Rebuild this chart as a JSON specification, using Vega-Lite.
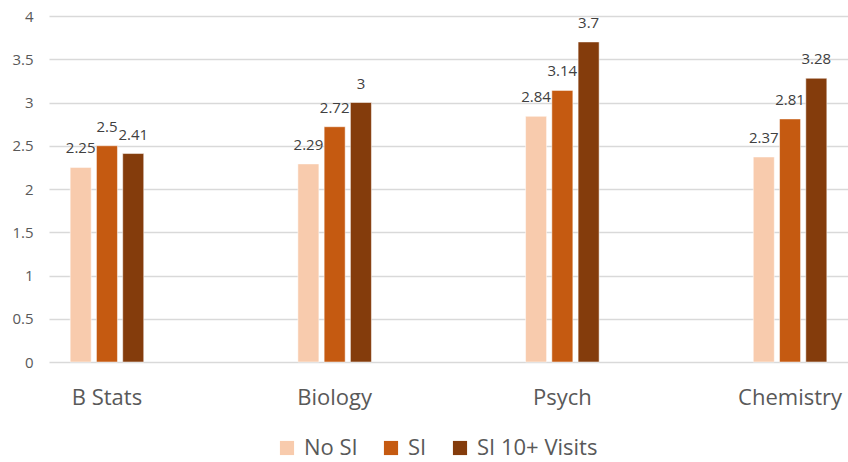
{
  "$schema": "https://vega.github.io/schema/vega-lite/v6.json",
  "autosize": "none",
  "width": 799,
  "height": 346,
  "padding": {"left": 49, "top": 16, "right": 0, "bottom": 100},
  "background": "white",
  "config": {"view": {"stroke": null}, "font": "Open Sans"},
  "data": {"values": [
    {"course": "B Stats", "group": "No SI", "gpa": 2.25},
    {"course": "B Stats", "group": "SI", "gpa": 2.5},
    {"course": "B Stats", "group": "SI 10+ Visits", "gpa": 2.41},
    {"course": "Biology", "group": "No SI", "gpa": 2.29},
    {"course": "Biology", "group": "SI", "gpa": 2.72},
    {"course": "Biology", "group": "SI 10+ Visits", "gpa": 3},
    {"course": "Psych", "group": "No SI", "gpa": 2.84},
    {"course": "Psych", "group": "SI", "gpa": 3.14},
    {"course": "Psych", "group": "SI 10+ Visits", "gpa": 3.7},
    {"course": "Chemistry", "group": "No SI", "gpa": 2.37},
    {"course": "Chemistry", "group": "SI", "gpa": 2.81},
    {"course": "Chemistry", "group": "SI 10+ Visits", "gpa": 3.28}
  ]},
  "encoding": {
    "x": {"field": "course", "type": "nominal", "sort": ["B Stats", "Biology", "Psych", "Chemistry"],
      "scale": {"paddingInner": 0.677, "paddingOuter": 0.093},
      "axis": {"title": null, "labelAngle": 0, "ticks": false, "domain": false, "labelFontSize": 22, "labelColor": "#595959", "labelPadding": 25, "labelFont": "Open Sans"}},
    "xOffset": {"field": "group", "type": "nominal", "sort": ["No SI", "SI", "SI 10+ Visits"], "scale": {"paddingInner": 0.2}},
    "y": {"field": "gpa", "type": "quantitative", "scale": {"domain": [0, 4]},
      "axis": {"title": null, "values": [0, 0.5, 1, 1.5, 2, 2.5, 3, 3.5, 4], "format": "~g", "labelOverlap": false, "domain": false, "ticks": false, "gridColor": "#d9d9d9", "gridWidth": 1.3, "labelFontSize": 15, "labelColor": "#595959", "labelPadding": 16, "labelFont": "Open Sans"}}
  },
  "layer": [
    {"mark": {"type": "bar", "stroke": "white", "strokeWidth": 0.5},
      "encoding": {"color": {"field": "group", "type": "nominal", "sort": ["No SI", "SI", "SI 10+ Visits"],
        "scale": {"domain": ["No SI", "SI", "SI 10+ Visits"], "range": ["#F8CBAD", "#C55A11", "#843C0C"]},
        "legend": {"title": null, "orient": "none", "legendX": 227, "legendY": 421, "direction": "horizontal", "symbolType": "square", "symbolSize": 200, "symbolStrokeWidth": 0, "labelFontSize": 22, "labelColor": "#595959", "labelFont": "Open Sans", "columnPadding": 22, "labelOffset": 6, "padding": 0}}}},
    {"mark": {"type": "text", "baseline": "bottom", "dy": -11, "fontSize": 15, "color": "#404040", "font": "Open Sans"},
      "encoding": {"text": {"field": "gpa", "type": "quantitative"}}}
  ]
}
